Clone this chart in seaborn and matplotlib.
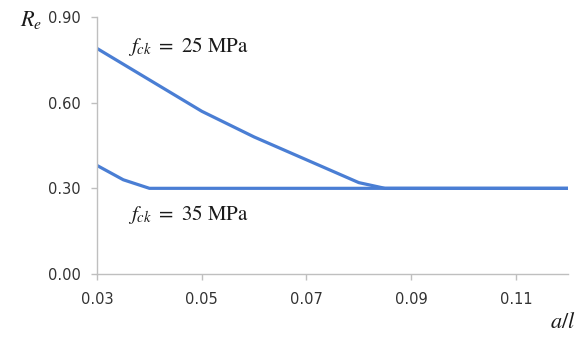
import pandas as pd
import matplotlib.pyplot as plt
import seaborn as sns

# datos
a_l_25 = [0.03, 0.04, 0.05, 0.06, 0.07, 0.08, 0.085, 0.12]
re_25 = [0.79, 0.68, 0.57, 0.48, 0.40, 0.32, 0.30, 0.30]

a_l_35 = [0.03, 0.035, 0.04, 0.12]
re_35 = [0.38, 0.33, 0.30, 0.30]

x_ticks = [0.03, 0.05, 0.07, 0.09, 0.11]
y_ticks = [0.00, 0.30, 0.60, 0.90]

df = pd.concat([
    pd.DataFrame({'a_l': a_l_25, 'Re': re_25, 'fck': '25'}),
    pd.DataFrame({'a_l': a_l_35, 'Re': re_35, 'fck': '35'}),
])

sns.set_style('white')
plt.rcParams['mathtext.fontset'] = 'stix'
plt.rcParams['font.family'] = ['DejaVu Sans']

color = '#4a7ed4'
grey = '#bfbfbf'

fig = plt.figure(figsize=(5.78, 3.42), dpi=100)
ax = fig.add_axes([0.168, 0.199, 0.815, 0.751])

sns.lineplot(data=df, x='a_l', y='Re', hue='fck', palette=[color, color],
             linewidth=2.3, legend=False, ax=ax, sort=False)

ax.set_xlim(0.03, 0.12)
ax.set_ylim(0, 0.9)
ax.set_xticks(x_ticks)
ax.set_xticklabels([f'{t:.2f}' for t in x_ticks])
ax.set_yticks(y_ticks)
ax.set_yticklabels([f'{t:.2f}' for t in y_ticks])
ax.set_xlabel('')
ax.set_ylabel('')

sns.despine(ax=ax)
for s in ['left', 'bottom']:
    ax.spines[s].set_color(grey)
    ax.spines[s].set_linewidth(1.0)
ax.tick_params(axis='both', colors=grey, length=4, width=1.0, direction='out',
               labelsize=10.5, labelcolor='#333333')
ax.tick_params(axis='y', pad=8)
ax.tick_params(axis='x', pad=9)
ax.tick_params(axis='both', left=True, bottom=True)

ax.text(0.066, 0.887, r'$f_{ck}\ =\ 25\ \mathrm{MPa}$', transform=ax.transAxes,
        fontsize=15, va='center', ha='left', color='#1a1a1a')
ax.text(0.066, 0.23, r'$f_{ck}\ =\ 35\ \mathrm{MPa}$', transform=ax.transAxes,
        fontsize=15, va='center', ha='left', color='#1a1a1a')

fig.text(0.035, 0.942, r'$R_e$', fontsize=16, va='center', ha='left', color='#1a1a1a')
fig.text(0.995, 0.058, r'$a/l$', fontsize=16, va='center', ha='right', color='#1a1a1a')

plt.savefig('out.png', dpi=100)
